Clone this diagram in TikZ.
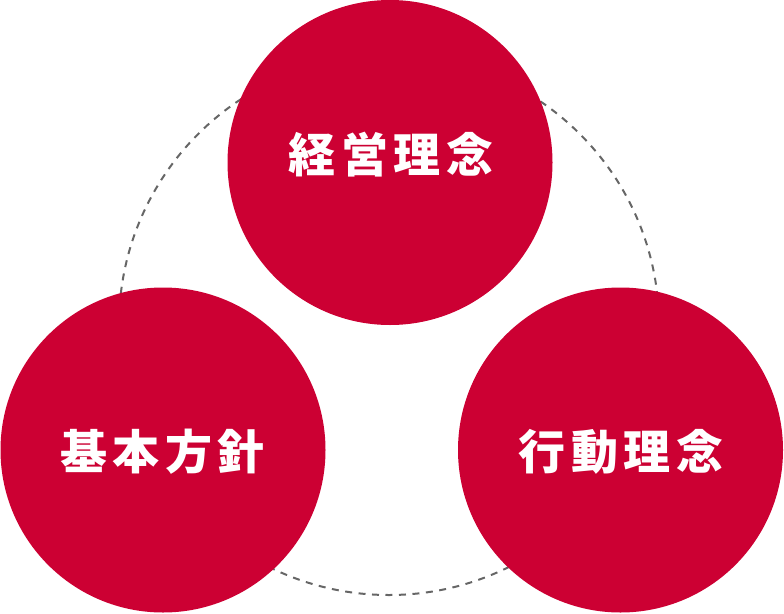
\documentclass[tikz,border=0pt]{standalone}
\usepackage{fontspec}
\newfontfamily\cjk{Noto Sans CJK JP}
\definecolor{circred}{RGB}{204,0,51}
\definecolor{dashgray}{RGB}{102,102,102}
\newcommand{\spacedfour}[4]{#1\kern5.5pt #2\kern5.5pt #3\kern5.5pt #4}
\tikzset{
  bigcircle/.style={circle, fill=circred, draw=none, minimum size=325pt, inner sep=0pt},
  label text/.style={text=white, inner sep=0pt, font=\cjk\bfseries\fontsize{47pt}{47pt}\selectfont},
  ring/.style={draw=dashgray, line width=2pt, dash pattern=on 7pt off 6.5pt}
}
\begin{document}
\begin{tikzpicture}[x=1pt,y=-1pt]
\useasboundingbox (0,0) rectangle (784,613);
\coordinate (ringc) at (389,325);
\draw[ring] (ringc) circle[radius=270pt];
\node[bigcircle] (top) at (390,162.5) {};
\node[bigcircle] (left) at (163,450) {};
\node[bigcircle] (right) at (620.5,450) {};
\node[label text] (ttop) at (391,155) {\spacedfour{経}{営}{理}{念}};
\node[label text] (tleft) at (162.5,452) {\spacedfour{基}{本}{方}{針}};
\node[label text] (tright) at (621,452) {\spacedfour{行}{動}{理}{念}};
\end{tikzpicture}
\end{document}
